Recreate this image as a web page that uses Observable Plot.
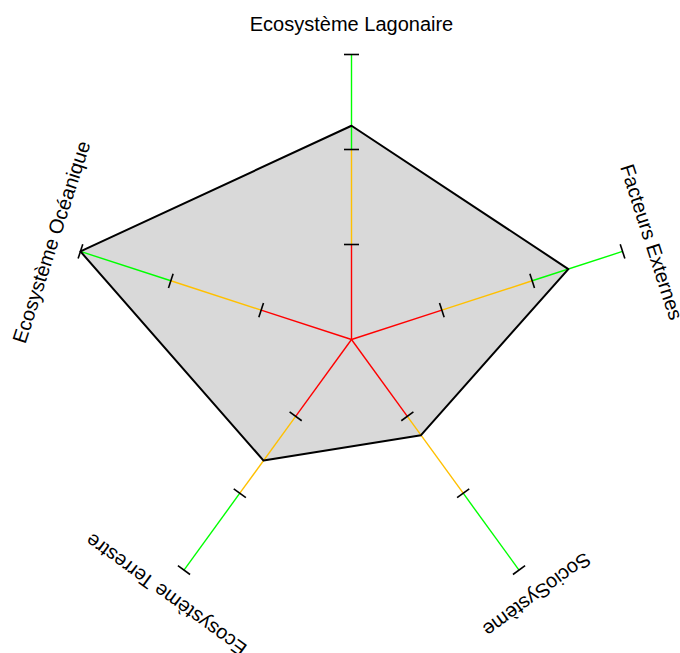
<!DOCTYPE html>
<html>
<head>
<meta charset="utf-8">
<script src="https://cdn.jsdelivr.net/npm/d3@7"></script>
<script src="https://cdn.jsdelivr.net/npm/@observablehq/plot@0.6"></script>
<style>
  html, body { margin: 0; padding: 0; background: #fff; }
  #chart svg { display: block; }
</style>
</head>
<body>
<div id="chart"></div>
<script>
// ---- data ----
const axes = ["Ecosystème Lagonaire", "Facteurs Externes", "SocioSystème", "Ecosystème Terrestre", "Ecosystème Océanique"];
const values = [0.75, 0.80, 0.415, 0.525, 1.0];
const levels = [0, 1/3, 2/3, 1];
const levelColors = ["#ff0000", "#ffc000", "#00ff00"];

// ---- layout ----
const W = 680, H = 653, cx = 351, cy = 339, R = 285;
const labelR = 315 / R;
const tickHalf = 7.5 / R;

const n = axes.length;
const ang = i => (i * 360 / n);
const rad = i => ang(i) * Math.PI / 180;

const polygon = axes.map((a, i) => ({axis: a, x: values[i] * Math.sin(rad(i)), y: values[i] * Math.cos(rad(i))}));

const segments = [];
axes.forEach((a, i) => {
  for (let j = 0; j < levelColors.length; j++) {
    const t = rad(i);
    segments.push({
      x1: levels[j] * Math.sin(t), y1: levels[j] * Math.cos(t),
      x2: levels[j + 1] * Math.sin(t), y2: levels[j + 1] * Math.cos(t),
      color: levelColors[j]
    });
  }
});

const ticks = [];
axes.forEach((a, i) => {
  const t = rad(i);
  levels.slice(1).forEach(l => {
    const px = l * Math.sin(t), py = l * Math.cos(t);
    const dx = Math.cos(t) * tickHalf, dy = -Math.sin(t) * tickHalf;
    ticks.push({x1: px - dx, y1: py - dy, x2: px + dx, y2: py + dy});
  });
});

const labels = axes.map((a, i) => ({text: a, x: labelR * Math.sin(rad(i)), y: labelR * Math.cos(rad(i)), rotate: ang(i)}));

const chart = Plot.plot({
  width: W,
  height: H,
  margin: 0,
  style: {fontFamily: "'Liberation Sans', Arial, sans-serif", background: "#fff"},
  x: {domain: [-cx / R, (W - cx) / R], axis: null},
  y: {domain: [-(H - cy) / R, cy / R], axis: null},
  color: {type: "identity"},
  marks: [
    Plot.line(polygon, {x: "x", y: "y", curve: "linear-closed", fill: "#d9d9d9", stroke: "none"}),
    Plot.link(segments, {x1: "x1", y1: "y1", x2: "x2", y2: "y2", stroke: "color", strokeWidth: 1.4}),
    Plot.line(polygon, {x: "x", y: "y", curve: "linear-closed", fill: "none", stroke: "#000", strokeWidth: 2}),
    Plot.link(ticks, {x1: "x1", y1: "y1", x2: "x2", y2: "y2", stroke: "#000", strokeWidth: 1.6}),
    Plot.text(labels, {x: "x", y: "y", text: "text", rotate: "rotate", fontSize: 20, textAnchor: "middle", lineAnchor: "middle", fill: "#000"})
  ]
});
document.getElementById("chart").appendChild(chart);
</script>
</body>
</html>
